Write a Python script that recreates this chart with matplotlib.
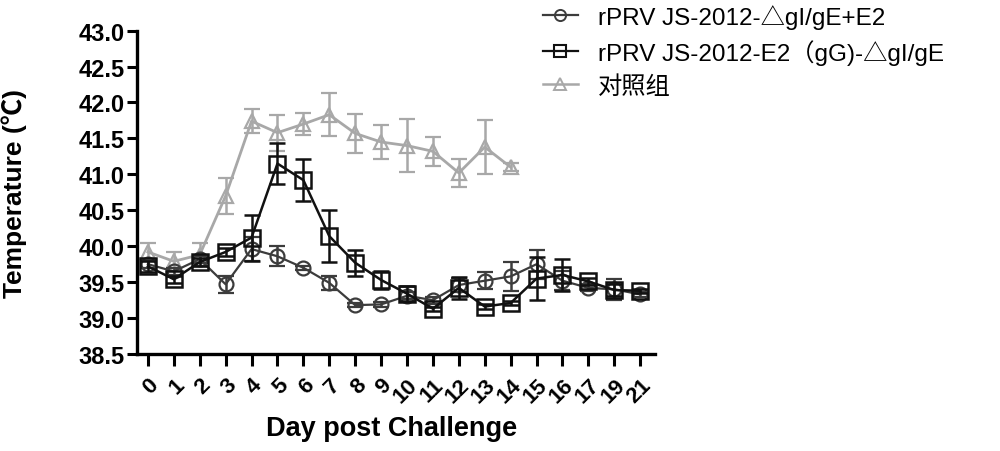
import matplotlib
matplotlib.use("Agg")
import matplotlib.pyplot as plt
from matplotlib.lines import Line2D
import numpy as np

days = ['0', '1', '2', '3', '4', '5', '6', '7', '8', '9', '10', '11', '12',
        '13', '14', '15', '16', '17', '19', '21']

circ = [39.75, 39.65, 39.82, 39.47, 39.96, 39.86, 39.70, 39.49, 39.18, 39.19,
        39.31, 39.25, 39.46, 39.52, 39.58, 39.75, 39.52, 39.42, 39.40, 39.33]
circ_err = [0.05, 0.05, 0.05, 0.12, 0.17, 0.14, 0.03, 0.10, 0.03, 0.03,
            0.05, 0.05, 0.10, 0.12, 0.20, 0.20, 0.13, 0.05, 0.15, 0.03]

sq = [39.72, 39.54, 39.78, 39.92, 40.12, 41.15, 40.92, 40.14, 39.77, 39.53,
      39.34, 39.13, 39.42, 39.16, 39.21, 39.55, 39.60, 39.51, 39.39, 39.38]
sq_err = [0.08, 0.05, 0.05, 0.05, 0.32, 0.28, 0.29, 0.36, 0.18, 0.13,
          0.10, 0.03, 0.15, 0.03, 0.03, 0.30, 0.22, 0.05, 0.08, 0.03]

tri = [39.92, 39.79, 39.88, 40.70, 41.74, 41.58, 41.70, 41.83, 41.57, 41.45,
       41.40, 41.32, 41.02, 41.38, 41.10]
tri_err = [0.12, 0.13, 0.17, 0.25, 0.17, 0.25, 0.15, 0.30, 0.27, 0.23,
           0.37, 0.20, 0.20, 0.37, 0.06]

labels = ['rPRV JS-2012-△gI/gE+E2', 'rPRV JS-2012-E2（gG)-△gI/gE', '对照组']

fam = ['Liberation Sans', 'Noto Sans CJK SC', 'DejaVu Sans']
plt.rcParams['font.family'] = fam

fig = plt.figure(figsize=(10, 4.52), dpi=100)
ax = fig.add_axes([0.137, 0.2146, 0.518, 0.7154])

x = np.arange(len(days))
xt = x[:len(tri)]

c_circ = '#3c3c3c'
c_sq = '#111111'
c_tri = '#a8a8a8'

ax.errorbar(xt, tri, yerr=tri_err, color=c_tri, marker='^', mfc='none', mec=c_tri,
            ms=10.5, mew=1.6, lw=2.0, capsize=6, capthick=1.8, elinewidth=1.8,
            zorder=2)
ax.errorbar(x, circ, yerr=circ_err, color=c_circ, marker='o', mfc='none', mec=c_circ,
            ms=10, mew=1.6, lw=1.6, capsize=6, capthick=1.8, elinewidth=1.8,
            zorder=3)
ax.errorbar(x, sq, yerr=sq_err, color=c_sq, marker='s', mfc='none', mec=c_sq,
            ms=11, mew=1.8, lw=1.8, capsize=6, capthick=1.8, elinewidth=1.8,
            zorder=4)

ax.set_ylim(38.5, 43.0)
ax.set_xlim(-0.42, 19.57)
yt = np.arange(38.5, 43.01, 0.5)
ax.set_yticks(yt)
ax.set_yticklabels([f'{v:.1f}' for v in yt], fontsize=17, fontweight='bold')
ax.set_xticks(x)
ax.set_xticklabels(days, rotation=45, ha='right', rotation_mode='anchor',
                   fontsize=16, fontweight='bold')

for s in ['top', 'right']:
    ax.spines[s].set_visible(False)
for s in ['left', 'bottom']:
    ax.spines[s].set_linewidth(2.4)
ax.tick_params(axis='y', length=7, width=2.2, pad=2)
ax.tick_params(axis='x', length=8.5, width=2.2, pad=6)

ax.set_xlabel('Day post Challenge', fontsize=19.5, fontweight='bold')
ax.xaxis.set_label_coords(0.492, -0.19)
ax.set_ylabel('Temperature (℃)', fontsize=19, fontweight='bold')
ax.yaxis.set_label_coords(-0.212, 0.5)

handles = [
    Line2D([], [], color=c_circ, marker='o', mfc='none', mec=c_circ, ms=8, mew=1.4, lw=1.6),
    Line2D([], [], color=c_sq, marker='s', mfc='none', mec=c_sq, ms=8.5, mew=1.5, lw=1.6),
    Line2D([], [], color=c_tri, marker='^', mfc='none', mec=c_tri, ms=9, mew=1.4, lw=1.8),
]
fig.legend(handles, labels, loc='upper left', bbox_to_anchor=(0.538, 1.0),
           bbox_transform=fig.transFigure, frameon=False,
           fontsize=17.5, handlelength=1.44, handletextpad=0.82,
           labelspacing=0.42, borderpad=0.2, borderaxespad=0)

fig.savefig('out.png', dpi=100)
